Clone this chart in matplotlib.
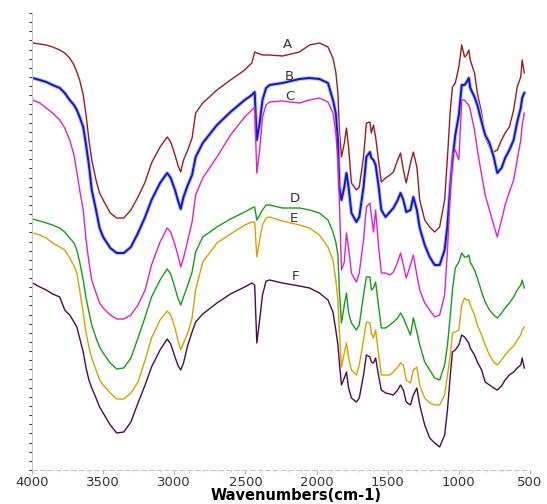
import numpy as np
import matplotlib
matplotlib.use("Agg")
import matplotlib.pyplot as plt

# --- wavenumber grid (cm-1), shared by all six spectra ---
wn = [3995, 3945, 3900, 3855, 3805, 3770, 3735, 3705, 3685, 3665,
      3640, 3620, 3600, 3580, 3550, 3525, 3500, 3450, 3405, 3355,
      3305, 3255, 3205, 3160, 3100, 3050, 3025, 2995, 2975, 2955,
      2935, 2905, 2875, 2850, 2800, 2700, 2605, 2505, 2455, 2435,
      2420, 2400, 2380, 2355, 2330, 2240, 2120, 2050, 1980, 1920,
      1885, 1865, 1850, 1840, 1825, 1805, 1790, 1775, 1755, 1720,
      1700, 1670, 1650, 1625, 1615, 1600, 1585, 1565, 1545, 1515,
      1485, 1460, 1430, 1410, 1390, 1370, 1340, 1320, 1295, 1275,
      1240, 1205, 1170, 1135, 1100, 1080, 1060, 1045, 1025, 1000,
      980, 960, 945, 930, 920, 890, 870, 840, 815, 785,
      755, 730, 700, 675, 645, 615, 590, 565, 555, 540]

# --- transmittance (arbitrary units, stacked) ---
spec_A = [427, 426, 425, 423, 420, 417, 412, 405, 398, 390,
          375, 355, 330, 310, 290, 277, 270, 257, 252, 252,
          260, 273, 288, 307, 323, 333, 328, 315, 305, 298,
          310, 320, 332, 357, 367, 380, 390, 400, 407, 418,
          417, 416, 415, 415, 415, 414, 418, 425, 427, 423,
          412, 398, 377, 340, 313, 327, 342, 323, 287, 280,
          283, 313, 347, 348, 337, 345, 333, 310, 288, 292,
          295, 298, 310, 317, 300, 287, 307, 318, 303, 270,
          250, 243, 238, 243, 270, 313, 360, 383, 387, 403,
          425, 413, 415, 420, 410, 397, 377, 357, 333, 323,
          318, 320, 330, 337, 343, 360, 383, 393, 410, 397]

spec_B = [392, 390, 388, 385, 382, 377, 370, 365, 360, 353,
          343, 325, 305, 280, 260, 242, 233, 222, 217, 217,
          223, 237, 253, 270, 287, 297, 292, 280, 270, 261,
          273, 285, 295, 313, 327, 345, 358, 370, 375, 378,
          330, 347, 370, 382, 385, 387, 391, 392, 391, 387,
          370, 357, 330, 283, 270, 283, 297, 283, 257, 248,
          253, 283, 313, 318, 312, 310, 305, 285, 260, 253,
          258, 262, 270, 277, 270, 258, 260, 273, 260, 242,
          225, 213, 205, 205, 220, 245, 285, 310, 335, 355,
          385, 385, 388, 392, 382, 373, 365, 348, 335, 327,
          313, 297, 302, 312, 320, 330, 348, 362, 372, 377]

spec_C = [370, 367, 362, 357, 350, 342, 330, 315, 298, 280,
          260, 230, 208, 190, 177, 167, 162, 155, 151, 151,
          155, 165, 180, 205, 228, 242, 238, 225, 215, 203,
          212, 230, 248, 275, 292, 313, 335, 353, 360, 363,
          297, 320, 353, 365, 368, 369, 367, 370, 372, 368,
          357, 337, 310, 270, 200, 208, 237, 222, 197, 188,
          197, 230, 263, 267, 255, 238, 260, 225, 197, 197,
          195, 198, 208, 217, 205, 192, 205, 215, 195, 180,
          167, 160, 153, 155, 175, 220, 280, 315, 320, 310,
          370, 370, 367, 365, 360, 340, 320, 295, 275, 260,
          245, 233, 250, 265, 278, 290, 310, 330, 345, 357]

spec_D = [251, 249, 247, 245, 242, 238, 232, 227, 220, 208,
          190, 172, 158, 145, 132, 123, 117, 107, 101, 102,
          112, 132, 153, 173, 190, 201, 196, 182, 172, 165,
          173, 185, 198, 218, 233, 243, 251, 258, 262, 263,
          250, 255, 260, 265, 265, 262, 262, 260, 257, 250,
          238, 228, 215, 180, 147, 165, 177, 157, 147, 140,
          145, 175, 193, 193, 180, 182, 188, 165, 142, 142,
          145, 148, 152, 157, 152, 145, 135, 152, 138, 125,
          108, 100, 92, 90, 105, 125, 155, 180, 202, 208,
          217, 213, 213, 215, 208, 200, 192, 178, 168, 160,
          155, 152, 157, 162, 167, 173, 180, 185, 190, 182]

spec_E = [237, 235, 232, 227, 223, 220, 212, 204, 197, 180,
          157, 137, 123, 112, 100, 90, 85, 77, 71, 71,
          77, 88, 110, 132, 150, 159, 155, 142, 130, 120,
          127, 137, 152, 180, 208, 227, 236, 245, 248, 248,
          213, 230, 245, 252, 253, 249, 245, 242, 235, 223,
          210, 190, 170, 140, 103, 117, 127, 112, 100, 95,
          105, 130, 148, 147, 137, 132, 140, 117, 95, 95,
          95, 98, 103, 107, 105, 90, 87, 100, 103, 85,
          72, 67, 65, 65, 75, 95, 115, 137, 138, 140,
          165, 172, 170, 170, 165, 155, 145, 135, 125, 115,
          108, 105, 110, 115, 120, 124, 130, 135, 140, 143]

spec_F = [187, 183, 180, 176, 173, 160, 155, 148, 143, 132,
          118, 102, 90, 82, 72, 63, 57, 45, 37, 38,
          48, 67, 85, 103, 120, 131, 126, 113, 105, 100,
          107, 125, 138, 148, 156, 167, 176, 183, 187, 185,
          127, 150, 175, 189, 190, 187, 184, 182, 177, 170,
          158, 140, 125, 108, 85, 92, 98, 82, 72, 68,
          72, 95, 115, 113, 108, 107, 112, 95, 80, 77,
          76, 75, 80, 85, 80, 68, 65, 75, 82, 65,
          45, 32, 27, 23, 35, 60, 95, 118, 120, 125,
          135, 133, 130, 127, 122, 115, 108, 100, 88, 85,
          82, 80, 84, 90, 95, 98, 102, 105, 112, 102]

names = ["A", "B", "C", "D", "E", "F"]
label_wn = [2203, 2189, 2189, 2154, 2161, 2147]
label_T = [425, 393, 373, 271, 252, 193]

colors = ["#9b1c1c", "#1414c8", "#e020c8", "#169c16", "#d9a000", "#4a0a4a"]
spectra = [spec_A, spec_B, spec_C, spec_D, spec_E, spec_F]

# --- figure ---
fig = plt.figure(figsize=(5.47, 5.04), dpi=100)
ax = fig.add_axes([32/547, 34/504, 498/547, 457/504])

for name, s, c in zip(names, spectra, colors):
    if name == "B":
        # blue trace has a light halo in the original
        ax.plot(wn, s, color="#b4c2f4", lw=2.8)
        ax.plot(wn, s, color=c, lw=1.4)
    else:
        ax.plot(wn, s, color=c, lw=1.0)

for name, x, y in zip(names, label_wn, label_T):
    ax.text(x, y, name, fontsize=9.5, color="#333333", ha="center", va="center")

ax.set_xlim(4000, 500)
ax.set_ylim(0, 457)

# axes styling: light spines, no top/right
ax.spines["top"].set_visible(False)
ax.spines["right"].set_visible(False)
ax.spines["left"].set_color("#c8c8c8")
ax.spines["bottom"].set_color("#c8c8c8")
ax.spines["bottom"].set_linestyle((0, (4, 3)))

ax.set_xticks([4000, 3500, 3000, 2500, 2000, 1500, 1000, 500])
ax.set_xticks(np.arange(500, 4001, 100), minor=True)
ax.tick_params(axis="x", which="major", length=3, color="#b0b0b0",
               labelsize=9.5, labelcolor="#333333", pad=1.5)
ax.tick_params(axis="x", which="minor", length=1.5, color="#c8c8c8")

ax.set_yticks(np.linspace(0, 457, 51))
ax.set_yticklabels([])
ax.tick_params(axis="y", length=2.5, width=0.8, color="#333333")

fig.text(296/547, 8/504, "Wavenumbers(cm-1)", fontsize=10.5, fontweight="bold",
         ha="center", va="center")

fig.savefig("out.png", dpi=100)
